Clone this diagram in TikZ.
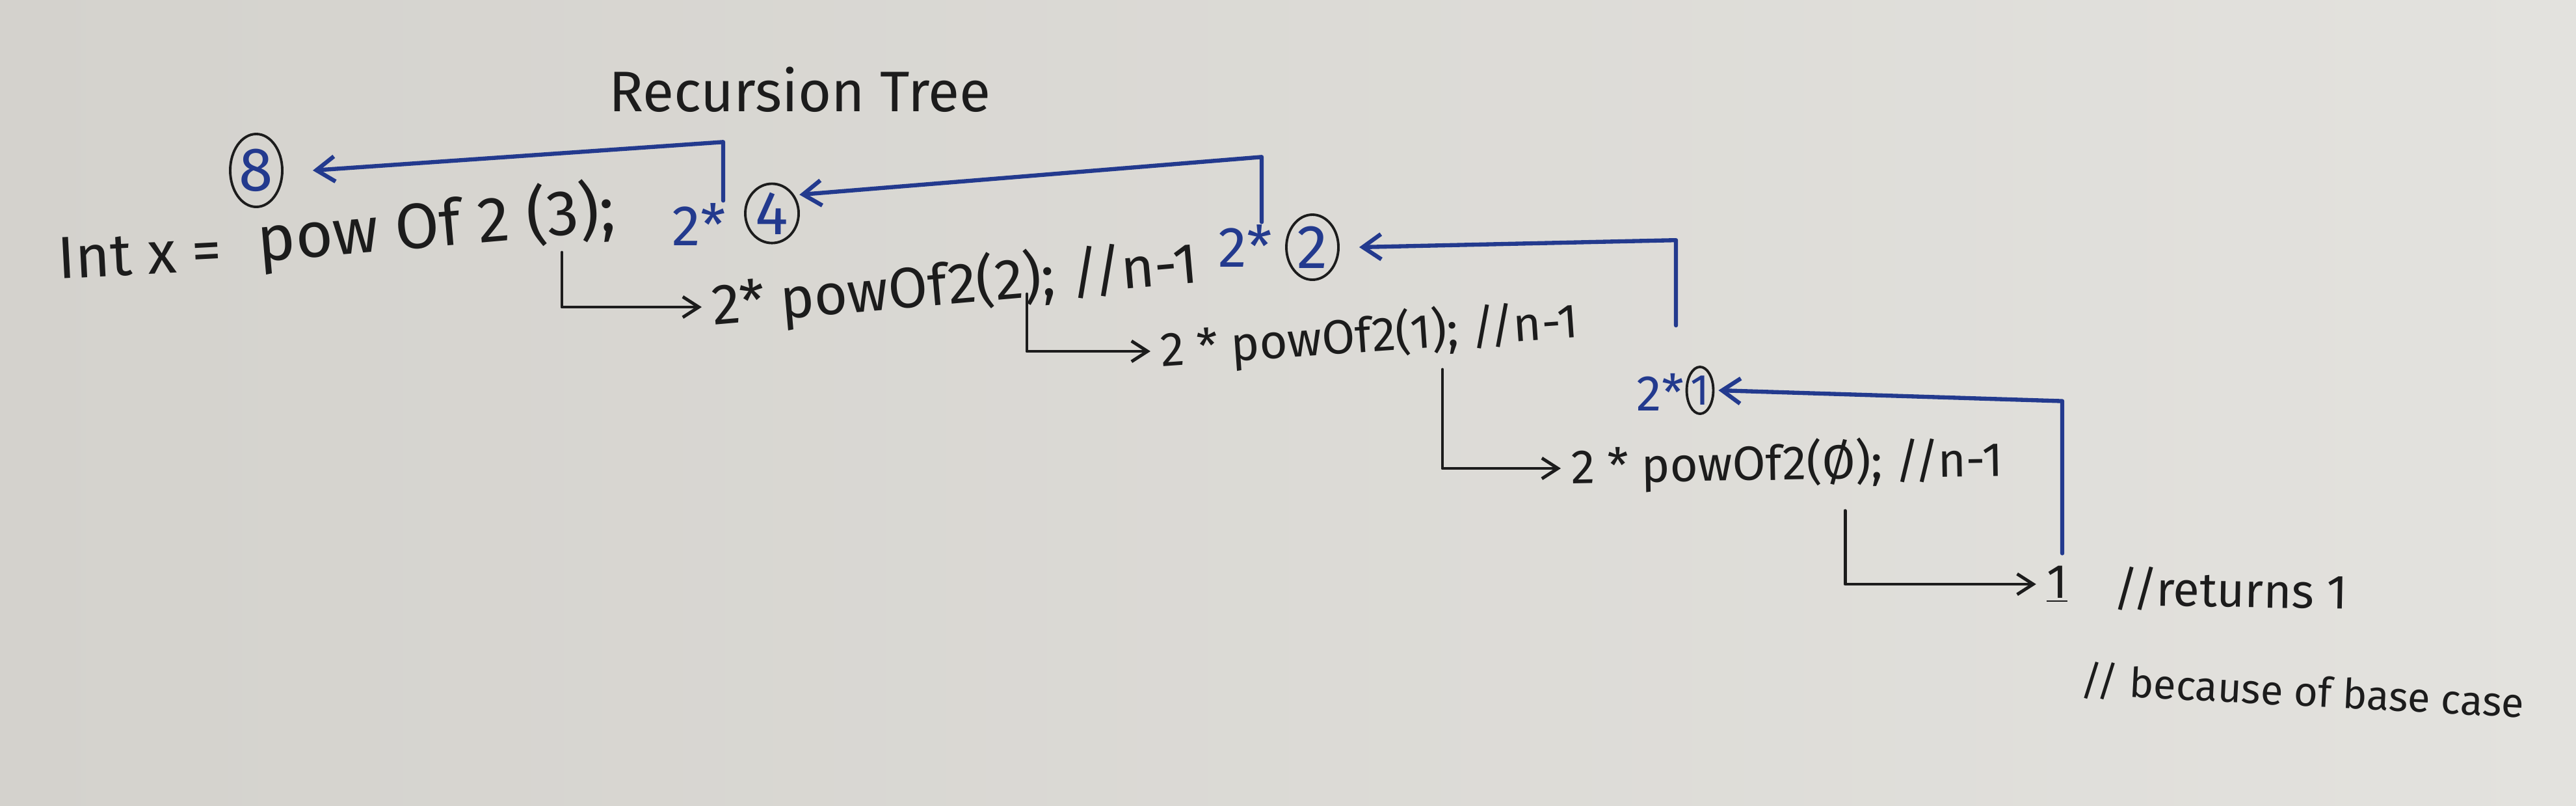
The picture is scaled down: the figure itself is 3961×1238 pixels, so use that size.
\documentclass[tikz,border=0pt]{standalone}
\usepackage{fontspec}
\setmainfont{Fira Sans}
\usetikzlibrary{arrows.meta,shapes.geometric}
\definecolor{board}{HTML}{D4D2CD}
\definecolor{boardlight}{HTML}{E3E2DE}
\definecolor{ink}{HTML}{1C1C1C}
\definecolor{marker}{HTML}{233A8E}
\tikzset{
  hand/.style={text=ink, inner sep=1pt, font=\fontsize{25}{28}\selectfont},
  small hand/.style={hand, font=\fontsize{21}{24}\selectfont},
  blue hand/.style={hand, text=marker},
  ring/.style={ellipse, draw=ink, line width=1.1pt, text=marker, inner sep=0pt,
    font=\fontsize{27}{30}\selectfont},
  call/.style={draw=ink, line width=1.4pt, shorten >=0.12cm,
    -{Straight Barb[length=7pt,width=9pt]}},
  ret/.style={draw=marker, line width=1.8pt, -{Straight Barb[length=8pt,width=11pt]}}
}
\begin{document}
\begin{tikzpicture}[x=0.01cm, y=-0.01cm, line cap=round, line join=round]
  \shade[left color=board, right color=boardlight] (0,0) rectangle (3961,1238);
  \useasboundingbox (0,0) rectangle (3961,1238);

  \node[hand] (title) at (1230,138) {Recursion Tree};

  % first call
  \node[hand, anchor=west, rotate=3, font=\fontsize{26}{30}\selectfont] (intx) at (85,398) {Int x =};
  \node[hand, anchor=west, rotate=5, font=\fontsize{28}{32}\selectfont] (call3) at (392,372) {pow Of 2 (3);};
  \node[ring, minimum width=0.8cm, minimum height=1.12cm] (c8) at (394,262) {8};
  \node[blue hand] (m4) at (1075,345) {2*};
  \node[ring, minimum width=0.82cm, minimum height=0.9cm] (c4) at (1187,328) {4};

  % second call
  \node[hand, anchor=west, rotate=5] (line2) at (1091,472) {2* powOf2(2); //n-1};
  \node[blue hand] (m2) at (1915,378) {2*};
  \node[ring, minimum width=0.8cm, minimum height=1.0cm] (c2) at (2018,380) {2};

  % third call
  \node[small hand, anchor=west, rotate=4] (line3) at (1781,540) {2 * powOf2(1); //n-1};
  \node[blue hand, font=\fontsize{22}{26}\selectfont] (m1) at (2553,603) {2*};
  \node[ring, minimum width=0.26cm, minimum height=0.72cm, font=\fontsize{19}{22}\selectfont] (c1) at (2614,600) {1};

  % fourth call
  \node[small hand, anchor=west, rotate=1] (line4) at (2412,720) {2 * powOf2(Ø); //n-1};

  % base case
  \node[small hand] (one) at (3163,898) {\underline{1}};
  \node[small hand, anchor=west, rotate=-1] (note1) at (3246,904) {//returns 1};
  \node[small hand, anchor=west, rotate=-3, font=\fontsize{18}{22}\selectfont] (note2) at (3195,1045) {// because of base case};

  % calls going down
  \coordinate (k1) at (864,388);
  \coordinate (k2) at (1579,452);
  \coordinate (k3) at (2218,568);
  \coordinate (k4) at (2837,785);
  \draw[call] (k1) |- (line2.west);
  \draw[call] (k2) |- (line3.west);
  \draw[call] (k3) |- (line4.west);
  \draw[call] (k4) |- (one.west);

  % values going back up
  \draw[ret] ([xshift=0.37cm]m4.north) -- ++(0,-90) -- ([xshift=0.45cm]c8.east);
  \draw[ret] ([xshift=0.25cm]m2.north) -- ++(0,-100) -- ([xshift=0.08cm]c4.40);
  \draw[ret] ([xshift=0.24cm,yshift=0.7cm]m1.north) -- ++(0,-131) -- ([xshift=0.3cm]c2.east);
  \draw[ret] ([xshift=0.08cm,yshift=0.15cm]one.north) -- ++(0,-234) -- ([xshift=0.06cm]c1.east);
\end{tikzpicture}
\end{document}
